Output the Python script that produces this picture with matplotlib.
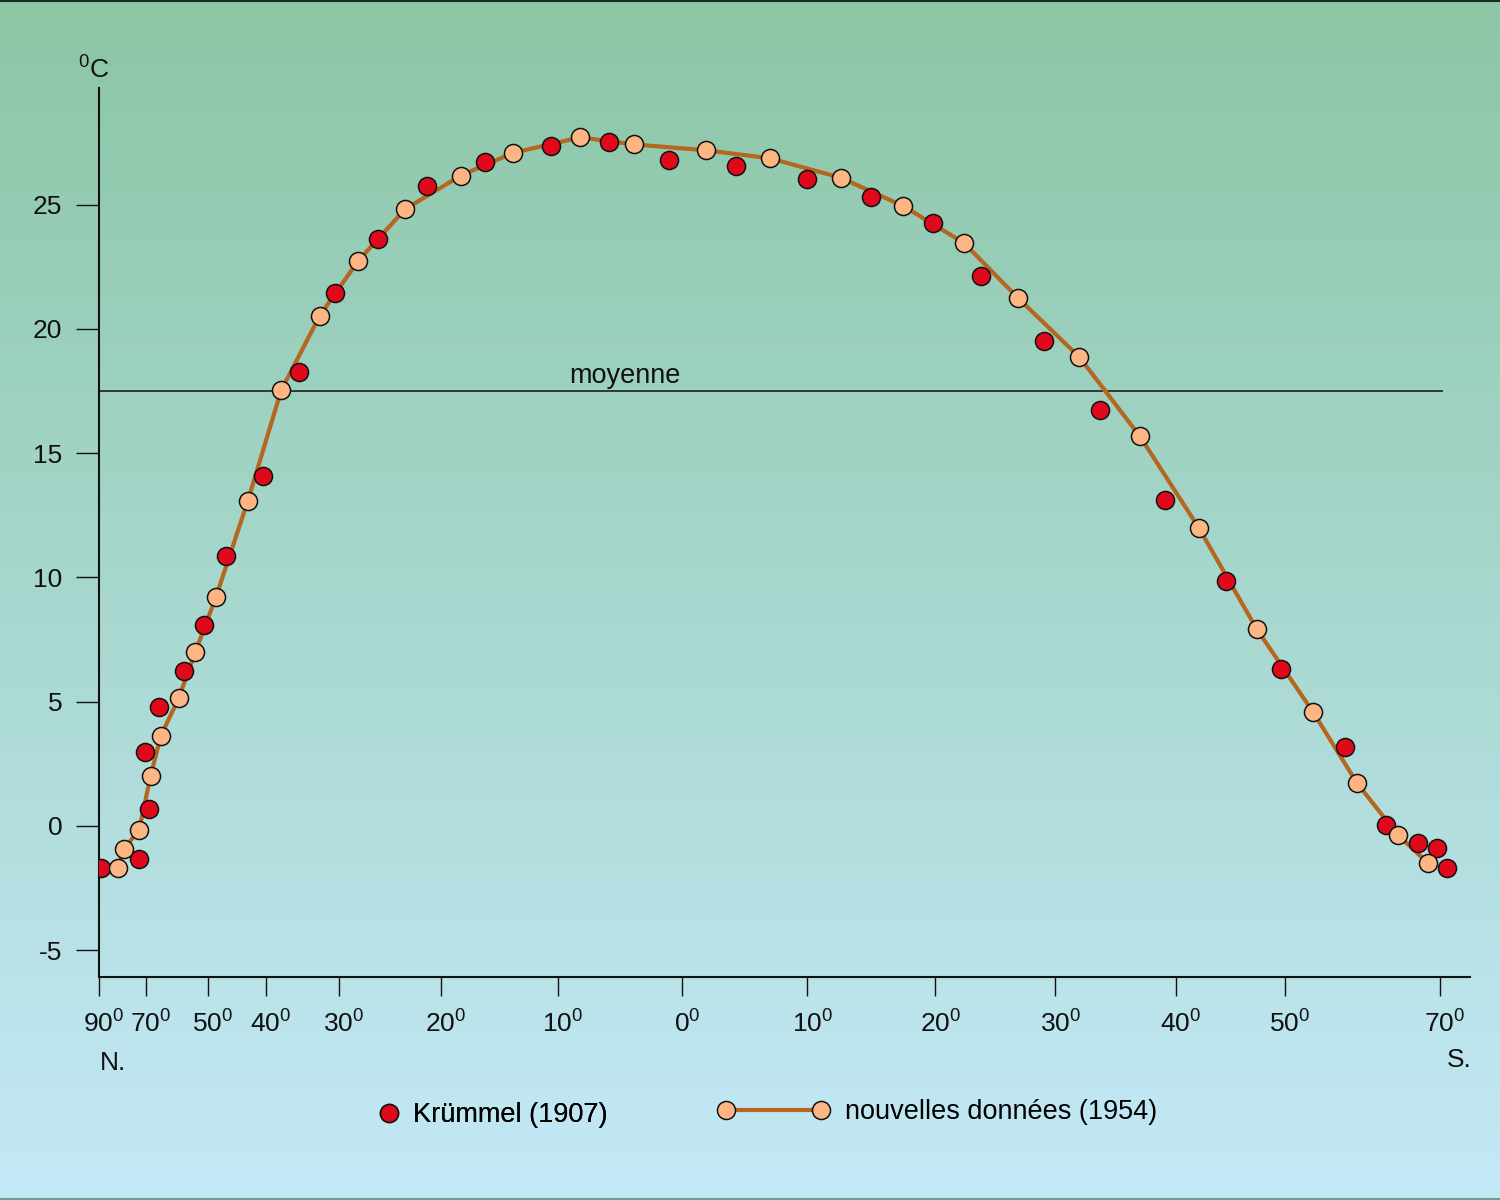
import numpy as np
import matplotlib
matplotlib.use("Agg")
import matplotlib.pyplot as plt
from matplotlib.transforms import ScaledTranslation
from matplotlib.lines import Line2D

plt.rcParams["font.family"] = ["Liberation Sans", "DejaVu Sans"]
plt.rcParams["mathtext.fontset"] = "custom"
plt.rcParams["mathtext.rm"] = "Liberation Sans"
plt.rcParams["mathtext.default"] = "regular"

# latitude (north positive, south negative) and sea surface temperature (deg C)
krummel_lat = [89, 73.1, 68.9, 70.3, 65.7, 57.6, 51.1, 46.9, 40.5, 35.4, 30.5, 26.2,
               21.3, 16.2, 10.6, 5.9, 1.1, -4.3, -10.0, -15.0, -19.8, -23.8, -29.1,
               -33.7, -39.1, -44.6, -49.6, -57.8, -63.0, -67.2, -69.7, -70.9]
krummel_temp = [-1.70, -1.33, 0.68, 2.98, 4.78, 6.23, 8.08, 10.87, 14.07, 18.26, 21.46,
                23.62, 25.75, 26.71, 27.35, 27.51, 26.79, 26.55, 26.04, 25.31, 24.27,
                22.13, 19.52, 16.74, 13.12, 9.86, 6.32, 3.17, 0.04, -0.70, -0.87, -1.68]

new_lat = [82.0, 79.5, 72.9, 68.5, 65.2, 59.4, 54.1, 48.6, 43.1, 37.9, 32.6, 28.1, 23.5,
           18.3, 13.8, 8.2, 3.9, -1.9, -7.0, -12.6, -17.5, -22.4, -26.9, -32.0, -37.0,
           -42.1, -47.4, -53.6, -59.3, -64.6, -68.5]
new_temp = [-1.70, -0.94, -0.16, 2.01, 3.63, 5.15, 6.99, 9.22, 13.09, 17.53, 20.54, 22.74,
            24.82, 26.17, 27.09, 27.71, 27.43, 27.19, 26.87, 26.09, 24.95, 23.46, 21.25,
            18.87, 15.69, 11.99, 7.93, 4.60, 1.73, -0.37, -1.50]

mean_temp = 17.5

tick_lat = [90, 70, 50, 40, 30, 20, 10, 0, -10, -20, -30, -40, -50, -70]
tick_labels = [f"{abs(t)}$^0$" for t in tick_lat]
y_ticks = [-5, 0, 5, 10, 15, 20, 25]

# the original x axis is drawn with an uneven latitude spacing
scale_lat = np.array([100, 90, 70, 50, 40, 30, 20, 10, 0, -10, -20, -30, -40, -50, -70, -80])
scale_pos = np.array([74.5, 98, 145, 207, 265, 338, 440, 557, 682, 807, 935, 1055, 1176,
                      1285, 1440, 1517.5])


def lat_fwd(lat):
    # increasing with latitude, axis is then inverted by the limits
    return -np.interp(-np.asarray(lat, dtype=float), -scale_lat, scale_pos)


def lat_inv(p):
    return -np.interp(-np.asarray(p, dtype=float), scale_pos, -scale_lat)


fig = plt.figure(figsize=(15, 12), dpi=100)

# background gradient
bg = fig.add_axes([0, 0, 1, 1], zorder=-10)
top = np.array([139, 198, 165]) / 255
bot = np.array([196, 233, 248]) / 255
t = np.linspace(0, 1, 256)[:, None]
grad = (top[None, :] * (1 - t) + bot[None, :] * t)[:, None, :]
bg.imshow(grad, aspect="auto", extent=[0, 1, 0, 1])
bg.axis("off")
fig.add_artist(Line2D([0, 1], [0.999, 0.999], color="#1e2a26", lw=1.5))
fig.add_artist(Line2D([0, 1], [0.001, 0.001], color="#6e9e96", lw=1.5))

ax = fig.add_axes([0.066, 0.1858, 0.914, 0.7409])
ax.set_facecolor("none")
ax.set_xscale("function", functions=(lat_fwd, lat_inv))
ax.set_xlim(90, -73.9)
ax.set_ylim(-6.08, 29.7)

line_col = "#b5661f"
ax.hlines(mean_temp, 90, -70.4, color="#111111", lw=1.1, zorder=1)
ax.annotate("moyenne", xy=(4.6, mean_temp), xytext=(0, 6), textcoords="offset points",
            ha="center", va="baseline", fontsize=19.5, color="#111111")

ax.plot(new_lat, new_temp, color=line_col, lw=3, zorder=2)
ax.plot(krummel_lat, krummel_temp, "o", ms=13, mfc="#e0081b", mec="#111111", mew=1.1,
        zorder=3)
ax.plot(new_lat, new_temp, "o", ms=13, mfc="#fdb683", mec="#111111", mew=1.1, zorder=4)

for s in ["top", "right"]:
    ax.spines[s].set_visible(False)
for s in ["left", "bottom"]:
    ax.spines[s].set_color("#111111")
    ax.spines[s].set_linewidth(1.5)

ax.set_xticks(tick_lat)
ax.set_xticklabels(tick_labels, fontsize=19)
ax.set_yticks(y_ticks)
ax.set_yticklabels([str(v) for v in y_ticks], fontsize=19)
ax.tick_params(axis="x", length=14, width=1, pad=10, colors="#111111")
ax.tick_params(axis="y", length=16.5, width=1, pad=10, colors="#111111")
for lab in ax.get_xticklabels():
    lab.set_transform(lab.get_transform() + ScaledTranslation(0.05, 0, fig.dpi_scale_trans))

ax.text(-0.004, 1.02, "$^0$C", transform=ax.transAxes, ha="center", va="center",
        fontsize=19, color="#111111")
ax.text(0.001, -0.097, "N.", transform=ax.transAxes, ha="left", va="center",
        fontsize=19, color="#111111")
ax.text(1.0015, -0.093, "S.", transform=ax.transAxes, ha="right", va="center",
        fontsize=19, color="#111111")

# legend
red_h = Line2D([], [], ls="none", marker="o", ms=13, mfc="#e0081b", mec="#111111", mew=1.1)
new_h = Line2D([], [], color=line_col, lw=3, marker="o", ms=13, mfc="#fdb683",
               mec="#111111", mew=1.1)
leg1 = fig.legend([red_h], ["Krümmel (1907)"], loc="center left",
                  bbox_to_anchor=(0.25, 0.0708), frameon=False, fontsize=19.5,
                  numpoints=1, handlelength=1.0, handletextpad=0.42, borderpad=0,
                  borderaxespad=0)
leg2 = fig.legend([new_h], ["nouvelles données (1954)"], loc="center left",
                  bbox_to_anchor=(0.4787, 0.0733), frameon=False, fontsize=19.5,
                  numpoints=2, handlelength=4.1, handletextpad=0.6, borderpad=0,
                  borderaxespad=0)
fig.add_artist(leg1)

fig.savefig("out.png", dpi=100)
